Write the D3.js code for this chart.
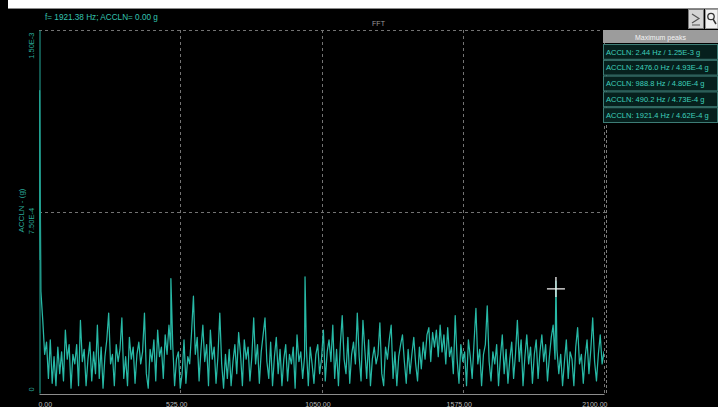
<!DOCTYPE html>
<html>
<head>
<meta charset="utf-8">
<script src="https://cdn.jsdelivr.net/npm/d3@7"></script>
<style>
  html, body { margin: 0; padding: 0; background: #000; }
  svg { display: block; }
  text { font-family: "Liberation Sans Narrow", "Liberation Sans", Arial, sans-serif; }
</style>
</head>
<body>
<svg id="chart" width="718" height="407"></svg>
<script>
// FFT amplitude spectrum, ACCLN channel (g), bins every 7 Hz, values in 1e-4 g
const binStepHz = 7;
const amplitudeE4 = [
  5.5, 4.2, 3.0, 1.6, 2.1, 0.6, 2.2, 0.4, 1.5, 0.3, 1.9, 0.8, 1.7, 0.5, 2.6, 1.4, 2.0, 0.2, 1.6, 1.2,
  2.0, 0.3, 3.0, 1.3, 1.8, 0.3, 1.4, 2.1, 0.5, 1.7, 0.8, 2.8, 0.6, 1.9, 0.2, 1.5, 2.2, 3.3, 1.2, 1.6,
  0.3, 2.0, 1.3, 1.8, 3.1, 0.6, 1.5, 0.3, 2.3, 1.4, 1.9, 0.4, 1.6, 2.1, 1.2, 1.7, 3.3, 0.8, 0.2, 1.8,
  1.3, 2.2, 0.5, 2.6, 1.5, 1.9, 0.6, 2.4, 1.6, 2.8, 1.8, 2.0, 0.3, 1.4, 1.7, 0.2, 0.8, 2.2, 0.4, 1.5,
  1.2, 2.5, 4.0, 1.6, 2.3, 0.5, 1.8, 2.8, 1.3, 2.0, 0.3, 2.6, 1.4, 1.9, 0.4, 1.5, 3.3, 1.2, 0.2, 1.6,
  0.6, 1.8, 0.3, 1.3, 2.0, 0.8, 2.5, 1.6, 0.3, 2.2, 1.4, 1.9, 0.5, 1.5, 3.1, 1.2, 2.0, 0.4, 1.7, 2.4,
  3.1, 1.3, 0.6, 2.1, 0.3, 1.5, 2.3, 0.8, 1.8, 0.3, 1.4, 2.0, 0.5, 1.6, 1.2, 1.9, 0.2, 2.4, 1.3, 1.7,
  0.6, 1.5, 1.8, 0.3, 1.9, 1.2, 0.4, 1.6, 2.0, 0.8, 1.4, 2.6, 0.5, 1.7, 2.2, 1.3, 2.8, 0.6, 1.8, 0.3,
  2.0, 3.2, 1.4, 0.8, 2.3, 0.4, 1.6, 2.1, 1.2, 3.3, 1.5, 0.5, 3.0, 1.8, 0.6, 2.2, 0.3, 1.4, 1.9, 1.2,
  1.6, 2.9, 0.8, 0.3, 1.9, 1.4, 2.2, 2.8, 0.6, 1.7, 0.3, 1.5, 2.0, 2.4, 1.3, 0.4, 1.8, 0.8, 1.6, 2.3,
  1.2, 0.5, 1.9, 1.0, 2.1, 1.4, 2.4, 2.7, 1.3, 2.5, 1.9, 2.6, 1.5, 2.8, 1.7, 2.4, 1.2, 2.7, 1.5, 1.9,
  0.8, 3.2, 1.4, 0.4, 2.0, 1.3, 1.7, 0.3, 2.2, 1.5, 0.6, 2.1, 3.5, 1.2, 1.8, 0.3, 1.6, 2.0, 3.6, 1.3,
  0.5, 1.7, 1.2, 2.0, 0.3, 1.5, 2.4, 0.8, 1.8, 0.4, 1.4, 2.1, 0.6, 1.6, 3.0, 1.3, 2.2, 0.3, 1.5, 2.4,
  1.2, 1.9, 0.4, 1.6, 2.2, 0.6, 1.7, 2.4, 1.3, 2.0, 0.5, 1.5, 2.3, 2.8, 1.4, 1.8, 0.8, 1.6, 0.3, 1.3,
  2.2, 0.6, 1.7, 1.4, 0.3, 1.9, 2.7, 1.2, 1.6, 0.4, 1.5, 2.2, 0.8, 1.8, 3.1, 1.3, 0.5, 1.6, 2.4, 1.2, 1.7
];

// Maximum peaks (frequency in Hz, amplitude in g), largest first
const peakFreqHz = [2.44, 2476.0, 988.8, 490.2, 1921.4];
const peakAmpG   = [1.25e-3, 4.93e-4, 4.80e-4, 4.73e-4, 4.62e-4];

// Cursor readout
const cursorFreqHz = 1921.38;
const cursorAmpG = 4.3e-4;

const xTicks = [0, 525, 1050, 1575, 2100];
const yTicks = [0, 7.5e-4, 1.5e-3];
const channel = "ACCLN";

const svg = d3.select("#chart");
const W = 718, H = 407;
const plot = { left: 39, right: 604, top: 30, bottom: 393 };

const x = d3.scaleLinear().domain([0, 2100]).range([plot.left, plot.right]);
const y = d3.scaleLinear().domain([0, 1.5e-3]).range([plot.bottom, plot.top]);

// window frame: white strip along the top edge
svg.append("rect").attr("width", W).attr("height", H).attr("fill", "#000");
svg.append("rect").attr("x", 8).attr("y", 0).attr("width", W - 8).attr("height", 8).attr("fill", "#fff");
svg.append("line").attr("x1", 8).attr("x2", W).attr("y1", 8.5).attr("y2", 8.5)
  .attr("stroke", "#8a8a8a").attr("stroke-width", 1);

// toolbar buttons at the top right
const tb = svg.append("g");
tb.append("rect").attr("x", 688.5).attr("y", 9.5).attr("width", 15).attr("height", 19)
  .attr("fill", "#d4d4d4").attr("stroke", "#7a7a7a");
tb.append("path").attr("d", "M692,14 L699,18.5 L692,23 M692,25 L700,25")
  .attr("fill", "none").attr("stroke", "#555").attr("stroke-width", 1.2);
tb.append("rect").attr("x", 705.5).attr("y", 9.5).attr("width", 12.5).attr("height", 19)
  .attr("fill", "#f0f0f0").attr("stroke", "#9a9a9a");
tb.append("circle").attr("cx", 711).attr("cy", 16.5).attr("r", 3.2)
  .attr("fill", "none").attr("stroke", "#333").attr("stroke-width", 1.3);
tb.append("line").attr("x1", 713).attr("y1", 19).attr("x2", 716).attr("y2", 24)
  .attr("stroke", "#333").attr("stroke-width", 1.5);

// cursor readout and title
svg.append("text").attr("x", 45).attr("y", 20)
  .attr("fill", "#35c4b0").attr("font-size", 8.2)
  .text(`f= ${d3.format(".2f")(cursorFreqHz)} Hz; ${channel}= ${d3.format(".2f")(cursorAmpG)} g`);
svg.append("text").attr("x", (plot.left + plot.right) / 2 + 57).attr("y", 26)
  .attr("fill", "#9a9a9a").attr("font-size", 7).attr("text-anchor", "middle").text("FFT");

// grid
const grid = svg.append("g").attr("stroke", "#9a9a9a").attr("stroke-dasharray", "3,3")
  .attr("stroke-width", 1).attr("opacity", 0.75);
grid.selectAll("line.v").data(xTicks.slice(1)).join("line")
  .attr("x1", d => Math.round(x(d)) + 0.5).attr("x2", d => Math.round(x(d)) + 0.5)
  .attr("y1", plot.top).attr("y2", plot.bottom);
grid.selectAll("line.h").data(yTicks.slice(1)).join("line")
  .attr("y1", d => Math.round(y(d)) + 0.5).attr("y2", d => Math.round(y(d)) + 0.5)
  .attr("x1", plot.left).attr("x2", plot.right + 2);

// spectrum trace
const spectrum = amplitudeE4.map((v, i) => ({ f: i * binStepHz, a: v * 1e-4 }))
  .concat(peakFreqHz.map((f, i) => ({ f, a: peakAmpG[i] })))
  .sort((a, b) => a.f - b.f);

svg.append("clipPath").attr("id", "plotClip").append("rect")
  .attr("x", plot.left).attr("y", plot.top)
  .attr("width", plot.right - plot.left).attr("height", plot.bottom - plot.top);

const line = d3.line().x(d => x(d.f)).y(d => y(d.a));
svg.append("path").datum(spectrum)
  .attr("clip-path", "url(#plotClip)")
  .attr("fill", "none").attr("stroke", "#27b9a6").attr("stroke-width", 1.25)
  .attr("stroke-linejoin", "round")
  .attr("d", line);

// bottom axis
const xAxis = d3.axisBottom(x).tickValues(xTicks).tickSize(0).tickPadding(8)
  .tickFormat(d3.format(".2f"));
const gx = svg.append("g").attr("transform", `translate(0,${plot.bottom + 1})`).call(xAxis);
gx.select(".domain").attr("stroke", "#8c8c8c").attr("stroke-width", 1.2);
gx.selectAll("text").attr("fill", "#b8b8b8").attr("font-size", 7)
  .attr("text-anchor", (d, i) => i === 0 ? "start" : (i === xTicks.length - 1 ? "end" : "middle"))
  .attr("dx", (d, i) => i === xTicks.length - 1 ? 3 : (i === 0 ? -1 : -4));

// right border of the plot
svg.append("line").attr("x1", plot.right + 2.5).attr("x2", plot.right + 2.5)
  .attr("y1", plot.top).attr("y2", plot.bottom + 1)
  .attr("stroke", "#9a9a9a").attr("stroke-dasharray", "3,2").attr("opacity", 0.8);

// left axis (rotated labels)
const yAxis = d3.axisLeft(y).tickValues(yTicks).tickSize(0)
  .tickFormat(d => d === 0 ? "0" : d3.format(".2e")(d).toUpperCase());
const gy = svg.append("g").attr("transform", `translate(${plot.left + 0.5},0)`).call(yAxis);
gy.select(".domain").attr("stroke", "#1f8f82").attr("stroke-width", 1.2);
gy.selectAll("text")
  .attr("fill", "#2aa898").attr("font-size", 7.5)
  .attr("transform", "rotate(-90)")
  .attr("dy", 0)
  .attr("y", -6)
  .attr("x", (d, i) => i === 0 ? 2 : (i === yTicks.length - 1 ? -2 : -9))
  .attr("text-anchor", (d, i) => i === 0 ? "start" : (i === yTicks.length - 1 ? "end" : "middle"));

svg.append("text")
  .attr("transform", `translate(${plot.left - 15},${y(7.5e-4) - 1}) rotate(-90)`)
  .attr("fill", "#2aa898").attr("font-size", 8).attr("text-anchor", "middle")
  .text(`${channel} - (g)`);

// cursor cross
const cx = x(cursorFreqHz), cy = y(cursorAmpG);
svg.append("path")
  .attr("d", `M${cx - 9},${cy} H${cx + 9} M${cx},${cy - 12} V${cy + 8}`)
  .attr("stroke", "#f2f2f2").attr("stroke-width", 1.3);

// maximum peaks panel
const panel = svg.append("g");
const px = plot.right - 1, pw = W - px;
panel.append("rect").attr("x", px).attr("y", 30).attr("width", pw).attr("height", 13)
  .attr("fill", "#9c9c9c");
panel.append("text").attr("x", px + pw / 2).attr("y", 39.5)
  .attr("fill", "#f4f4f4").attr("font-size", 7).attr("text-anchor", "middle")
  .text("Maximum peaks");
const rowH = 15.8;
const rows = panel.selectAll("g.row").data(peakFreqHz).join("g")
  .attr("transform", (d, i) => `translate(${px},${44 + i * rowH})`);
rows.append("rect").attr("x", 0.5).attr("y", 0.5).attr("width", pw - 1).attr("height", rowH - 1)
  .attr("fill", "#06201d").attr("stroke", "#3d7c75").attr("stroke-width", 1);
const fmtHz = f => f < 10 ? f.toFixed(2) : f.toFixed(1);
rows.append("text").attr("x", 3).attr("y", rowH / 2 + 2.8)
  .attr("fill", "#3fd0bc").attr("font-size", 7.5)
  .text((d, i) => `${channel}: ${fmtHz(d)} Hz / ${d3.format(".2e")(peakAmpG[i]).toUpperCase()} g`);
</script>
</body>
</html>
